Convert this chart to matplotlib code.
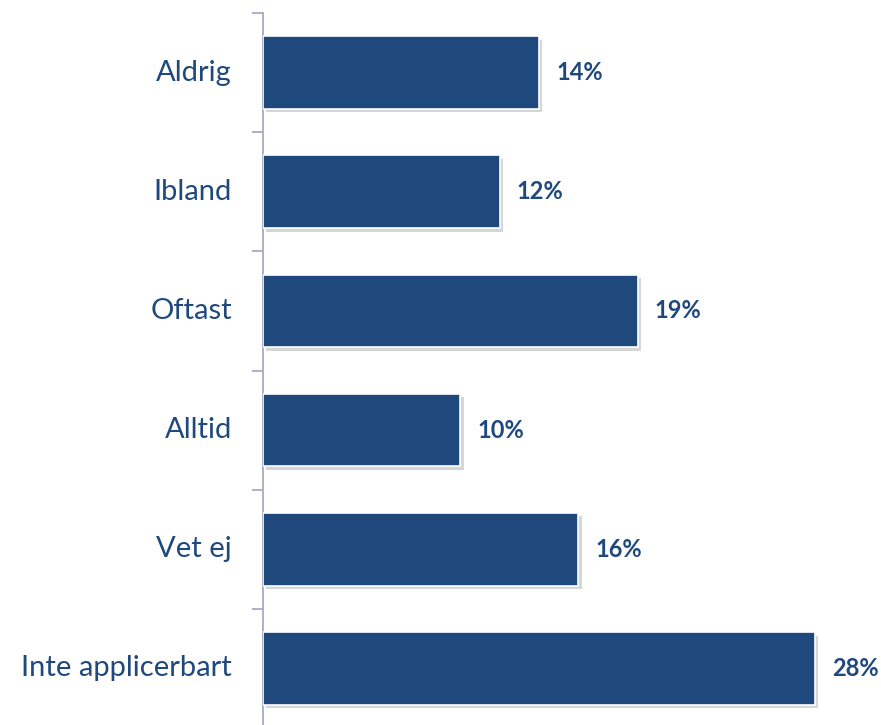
import matplotlib
matplotlib.use("Agg")
import matplotlib.pyplot as plt
import matplotlib.patheffects as pe
from matplotlib.transforms import blended_transform_factory, offset_copy

categories = ["Aldrig", "Ibland", "Oftast", "Alltid", "Vet ej", "Inte applicerbart"]
values = [14, 12, 19, 10, 16, 28]
value_labels = ["14%", "12%", "19%", "10%", "16%", "28%"]

bar_color = "#1F497D"
text_color = "#1F497D"
axis_color = "#A6ABBF"

plt.rcParams['font.family'] = ['Lato', 'DejaVu Sans']

W, H = 881, 725
fig = plt.figure(figsize=(W / 100, H / 100), dpi=100)
left_px, right_px = 263, 881
top_px, bot_px = 13, 728
ax = fig.add_axes([left_px / W, (H - bot_px) / H, (right_px - left_px) / W, (bot_px - top_px) / H])

y = list(range(len(categories)))
bars = ax.barh(y, values, height=0.61, color=bar_color, edgecolor="white", linewidth=1.2, zorder=3)
for b in bars:
    b.set_path_effects([pe.SimplePatchShadow(offset=(2.5, -2.5), shadow_rgbFace="#999999", alpha=0.4), pe.Normal()])

ax.set_xlim(0, 28 * (right_px - left_px) / (815 - left_px))
ax.set_ylim(len(categories) - 0.5, -0.5)

for s in ["top", "right", "bottom"]:
    ax.spines[s].set_visible(False)
ax.spines["left"].set_color(axis_color)
ax.spines["left"].set_linewidth(1.3)
ax.set_xticks([])
ax.set_yticks([i - 0.5 for i in range(len(categories) + 1)])
ax.set_yticklabels([])
ax.tick_params(axis="y", length=8, width=1.3, color=axis_color, direction="out")

trans = offset_copy(blended_transform_factory(ax.transAxes, ax.transData), fig=fig, x=-31, y=0, units="dots")
for i, c in enumerate(categories):
    ax.text(0, i, c, transform=trans, ha="right", va="center", fontsize=21, color=text_color)

for i, (v, lab) in enumerate(zip(values, value_labels)):
    t = offset_copy(ax.transData, fig=fig, x=17, y=0, units="dots")
    ax.text(v, i, lab, transform=t, ha="left", va="center", fontsize=17, fontweight="bold", color=text_color)

fig.savefig("out.png", dpi=100)
